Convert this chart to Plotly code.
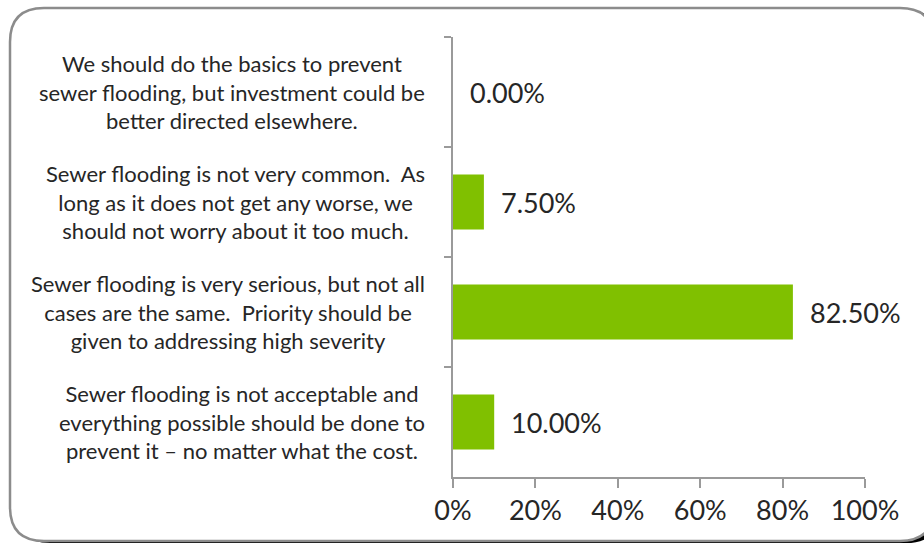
import plotly.graph_objects as go

# Survey responses, listed top to bottom
categories = [
    "We should do the basics to prevent<br>sewer flooding, but investment could be<br>better directed elsewhere.",
    "Sewer flooding is not very common.  As<br>long as it does not get any worse, we<br>should not worry about it too much.",
    "Sewer flooding is very serious, but not all<br>cases are the same.  Priority should be<br>given to addressing high severity",
    "Sewer flooding is not acceptable and<br>everything possible should be done to<br>prevent it \u2013 no matter what the cost.",
]
shares = [0.0, 7.5, 82.5, 10.0]
x_ticks = [0, 20, 40, 60, 80, 100]
x_tick_labels = ["0%", "20%", "40%", "60%", "80%", "100%"]

W, H = 924, 544
ML, MR, MT, MB = 453, 59, 37, 67
PW, PH = W - ML - MR, H - MT - MB

FONT = "Lato"
TEXT = "#262626"
AXIS = "#9a9a9a"
GREEN = "#80c000"


def px(x):
    return (x - ML) / PW


def py(y):
    return (H - MB - y) / PH


def rounded_rect(x0, y0, x1, y1, r):
    # SVG path for a rounded rectangle, pixel inputs converted to paper units
    pts = [
        f"M {px(x0 + r)} {py(y0)}",
        f"L {px(x1 - r)} {py(y0)}",
        f"Q {px(x1)} {py(y0)} {px(x1)} {py(y0 + r)}",
        f"L {px(x1)} {py(y1 - r)}",
        f"Q {px(x1)} {py(y1)} {px(x1 - r)} {py(y1)}",
        f"L {px(x0 + r)} {py(y1)}",
        f"Q {px(x0)} {py(y1)} {px(x0)} {py(y1 - r)}",
        f"L {px(x0)} {py(y0 + r)}",
        f"Q {px(x0)} {py(y0)} {px(x0 + r)} {py(y0)}",
        "Z",
    ]
    return " ".join(pts)


fig = go.Figure(
    go.Bar(
        x=shares,
        y=categories,
        orientation="h",
        width=0.5,
        marker=dict(color=GREEN, line=dict(width=0)),
        hoverinfo="skip",
    )
)

annotations = []
for cat, v in zip(categories, shares):
    annotations.append(dict(
        x=0, y=cat, xref="x", yref="y", text=cat, showarrow=False,
        xanchor="right", yanchor="middle", align="center", xshift=-26,
        font=dict(family=FONT, size=22, color=TEXT),
    ))
    annotations.append(dict(
        x=v, y=cat, xref="x", yref="y", text=f"{v:.2f}%", showarrow=False,
        xanchor="left", yanchor="middle", xshift=15,
        font=dict(family=FONT, size=27, color=TEXT),
    ))

shapes = [
    dict(type="path", xref="paper", yref="paper", layer="below",
         path=rounded_rect(16, 10, 940, 543, 34),
         fillcolor="#000000", line=dict(width=0)),
    dict(type="path", xref="paper", yref="paper", layer="below",
         path=rounded_rect(10, 8, 934, 541, 34),
         fillcolor="#ffffff", line=dict(color="#8c8c8c", width=2.5)),
]

fig.update_layout(
    width=W, height=H,
    margin=dict(l=ML, r=MR, t=MT, b=MB, pad=0),
    paper_bgcolor="#ffffff",
    plot_bgcolor="rgba(0,0,0,0)",
    showlegend=False,
    annotations=annotations,
    shapes=shapes,
    xaxis=dict(
        range=[0, 100], tickvals=x_ticks, ticktext=x_tick_labels,
        showgrid=False, zeroline=False,
        showline=True, linecolor=AXIS, linewidth=1.5,
        ticks="outside", ticklen=9, tickcolor=AXIS, tickwidth=1.5,
        tickfont=dict(family=FONT, size=27, color=TEXT),
        fixedrange=True,
    ),
    yaxis=dict(
        type="category", range=[3.5, -0.5], tickson="boundaries",
        showticklabels=False, showgrid=False, zeroline=False,
        showline=True, linecolor=AXIS, linewidth=1.5,
        ticks="outside", ticklen=7, tickcolor=AXIS, tickwidth=1.5,
        fixedrange=True,
    ),
)

fig.write_html("out.html")
